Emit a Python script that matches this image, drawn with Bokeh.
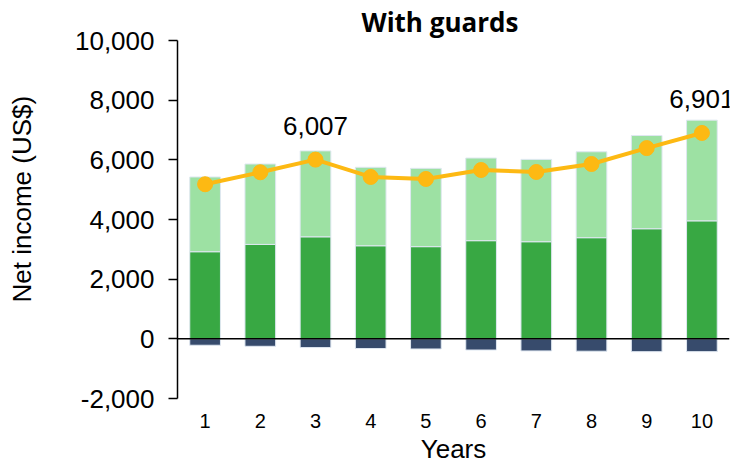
from bokeh.plotting import figure
from bokeh.models import (ColumnDataSource, FixedTicker, NumeralTickFormatter, Span, Title,
                          FactorRange, LinearAxis)
from bokeh.core.properties import value
from bokeh.embed import file_html
from bokeh.resources import INLINE

years = ["1", "2", "3", "4", "5", "6", "7", "8", "9", "10"]
income_base = [2920, 3165, 3420, 3120, 3090, 3290, 3255, 3390, 3690, 3955]
income_extra = [2505, 2695, 2880, 2630, 2625, 2770, 2760, 2880, 3125, 3375]
costs = [-215, -250, -293, -325, -340, -375, -405, -415, -430, -429]
net_income = [5182, 5583, 6007, 5426, 5359, 5659, 5593, 5860, 6394, 6901]
labelled_years = ["3", "10"]

FONT = "Liberation Sans"

top_total = [b + e for b, e in zip(income_base, income_extra)]
labels = [f"{v:,}" if y in labelled_years else "" for y, v in zip(years, net_income)]

src = ColumnDataSource(dict(
    x=years, base=income_base, total=top_total, zero=[0] * len(years),
    cost=costs, net=net_income, lab=labels,
))

p = figure(width=734, height=466, x_range=FactorRange(*years, range_padding=0),
           y_range=(-2000, 10000), output_backend="svg", toolbar_location=None,
           min_border_left=177, min_border_right=5, min_border_top=40, min_border_bottom=67)

p.title = Title(text="With guards", align="left", offset=184, standoff=2,
                text_font="Open Sans", text_font_size="26px", text_font_style="bold",
                text_color="black")

edge = "#dfe7f1"
p.vbar(x="x", bottom="zero", top="base", width=0.556, source=src,
       fill_color="#38a843", line_color=edge, line_width=1)
p.vbar(x="x", bottom="base", top="total", width=0.556, source=src,
       fill_color="#9de1a3", line_color=edge, line_width=1)
p.vbar(x="x", bottom="cost", top="zero", width=0.556, source=src,
       fill_color="#374b6c", line_color=edge, line_width=1)

p.add_layout(Span(location=0, dimension="width", line_color="black", line_width=1.5))

p.line(x="x", y="net", source=src, line_color="#fdb913", line_width=4)
p.scatter(x="x", y="net", source=src, size=15, fill_color="#fdb913", line_color="#fdb913")
p.text(x="x", y="net", text="lab", source=src, y_offset=-34, text_align="center",
       text_baseline="alphabetic", text_font=value(FONT), text_font_size="26px", text_color="black")

p.xgrid.visible = False
p.ygrid.visible = False
p.outline_line_color = None
p.background_fill_color = "white"
p.border_fill_color = "white"

ya = p.yaxis[0]
ya.ticker = FixedTicker(ticks=[-2000, 0, 2000, 4000, 6000, 8000, 10000])
ya.formatter = NumeralTickFormatter(format="0,0")
ya.major_tick_out = 9
ya.major_tick_in = 0
ya.minor_tick_line_color = None
ya.axis_line_color = "black"
ya.axis_line_width = 1.5
ya.major_tick_line_width = 1.5
ya.major_label_text_font = FONT
ya.major_label_text_font_size = "26px"
ya.major_label_text_color = "black"
ya.major_label_standoff = 14

# invisible spacer axis (white tick on white border, empty label) to push the y-axis title left
spacer = LinearAxis(ticker=FixedTicker(ticks=[-1000]), major_tick_out=35, major_tick_in=0,
                    minor_tick_out=0, minor_tick_in=0, major_tick_line_color="white",
                    minor_tick_line_color=None, axis_line_color=None,
                    major_label_overrides={-1000: ""}, major_label_standoff=0)
p.add_layout(spacer, "left")

p.add_layout(Title(text="Net income (US$)", align="left", offset=96, standoff=0,
                   text_font=FONT, text_font_size="26px", text_font_style="normal",
                   text_color="black"), "left")

xa = p.xaxis[0]
xa.axis_line_color = None
xa.major_tick_line_color = None
xa.minor_tick_line_color = None
xa.major_label_text_font = FONT
xa.major_label_text_font_size = "20px"
xa.major_label_text_color = "black"
xa.major_label_standoff = 9
xa.axis_label = "Years"
xa.axis_label_text_font = FONT
xa.axis_label_text_font_size = "26px"
xa.axis_label_text_font_style = "normal"
xa.axis_label_text_color = "black"
xa.axis_label_standoff = 3

open("out.html", "w").write(file_html(p, INLINE))
